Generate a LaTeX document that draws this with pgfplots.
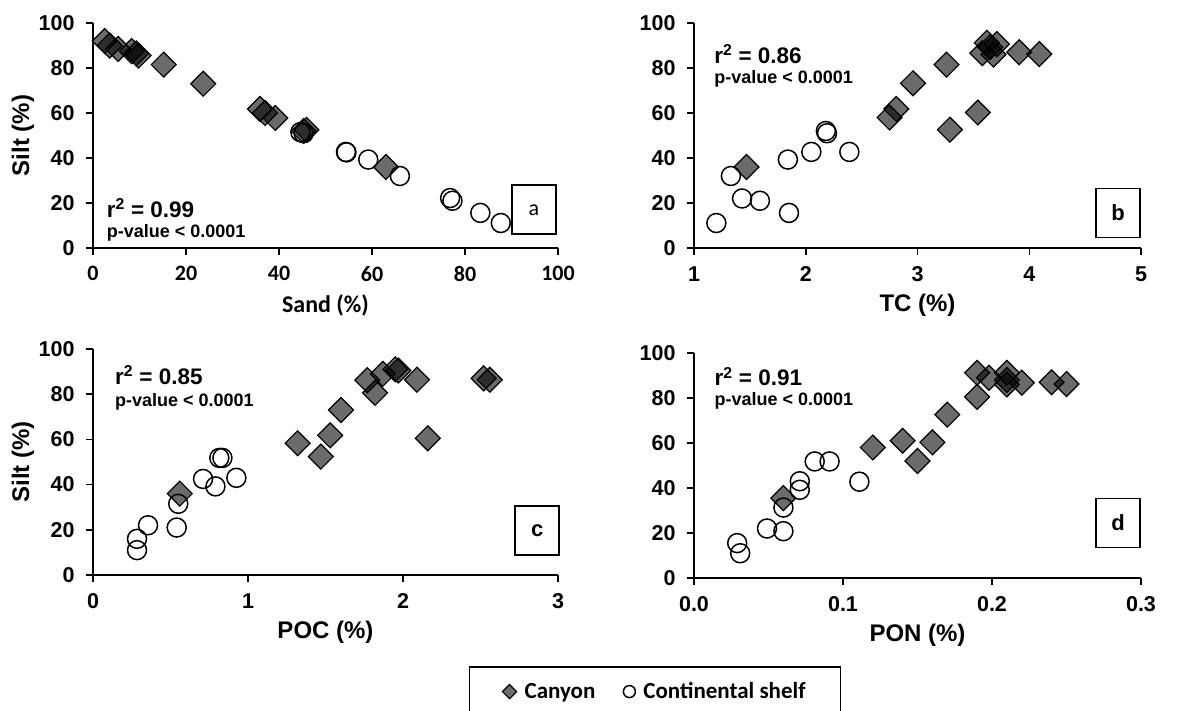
\documentclass[border=0pt]{standalone}
\usepackage{pgfplots}
\pgfplotsset{compat=1.18}
\usepackage{fontspec}
\setmainfont{Liberation Sans}
\newfontfamily\calibri{Carlito}
\newcommand{\tickfont}{\fontsize{21.5}{23}\selectfont\bfseries}
\newcommand{\labfont}{\fontsize{24}{26}\selectfont\bfseries}
\newcommand{\rfont}{\fontsize{22.5}{24}\selectfont\bfseries}
\newcommand{\pfont}{\fontsize{18}{20}\selectfont\bfseries}
\tikzset{letterbox/.style={draw=black, line width=1.5pt, minimum width=44pt, minimum height=49pt, inner sep=0pt}}
\pgfplotsset{
  panel/.style={
    scale only axis, axis x line*=bottom, axis y line*=left,
    axis line style={line width=1.5pt, black},
    tick style={line width=1.5pt, black}, tick align=outside,
    major tick length=7pt,
    ymin=0, ymax=100, ytick={0,20,...,100},
    /pgf/number format/assume math mode=true,
    ticklabel style={font=\tickfont},
    yticklabel style={xshift=-8pt},
    xticklabel style={yshift=-8pt},
    clip=false,
    xlabel style={font=\labfont, at={(axis description cs:0.5,-0.2533)}, anchor=center},
    ylabel style={font=\labfont, at={(axis description cs:-0.1505,0.5)}, anchor=center},
  },
  canyon/.style={only marks, mark=square*, mark size=8.8pt,
    mark options={rotate=45, fill=black, fill opacity=0.58, draw=black, draw opacity=1, line width=1.2pt},
    legend image post style={mark size=5pt}},
  shelf/.style={only marks, mark=o, mark size=9.5pt,
    mark options={draw=black, line width=1.5pt},
    legend image post style={mark size=6pt}},
}
\begin{document}
\begin{tikzpicture}
\useasboundingbox (0,0) rectangle (1203pt,711pt);
% ---------------- panel a
\begin{axis}[panel, at={(93pt,463pt)}, anchor=south west, width=465pt, height=225pt,
  xmin=0, xmax=100, xtick={0,20,...,100},
  xticklabel style={font=\calibri\bfseries\fontsize{22}{24}\selectfont},
  xlabel={\calibri Sand (\%)}, ylabel={Silt (\%)}]
\addplot[canyon] coordinates {(2.5,92) (3.6,90) (5.4,88.5) (8.3,87.5) (9.3,86.5) (9.8,85.5) (15.2,81.5) (23.7,73) (35.9,61.8) (37,60) (39.2,57.8) (45.9,52.5) (45.3,52) (63,36)};
\addplot[shelf] coordinates {(44.6,51.5) (45.3,51) (54.4,42.7) (54.5,42.5) (59.2,39.3) (66,32) (76.8,22.2) (77.3,21) (83.3,15.6) (87.7,11.1)};
\node[anchor=west, font=\rfont] at (axis cs:2.2,17.8) {r\textsuperscript{2} = 0.99};
\node[anchor=west, font=\pfont] at (axis cs:2.2,6.7) {p-value < 0.0001};
\node[letterbox, font=\calibri\fontsize{22}{24}\selectfont] at (axis cs:94.8,17.0) {a};
\end{axis}
% ---------------- panel b
\begin{axis}[panel, at={(694pt,463pt)}, anchor=south west, width=447pt, height=225pt,
  xmin=1, xmax=5, xtick={1,2,3,4,5},
  xlabel={TC (\%)}]
\addplot[canyon] coordinates {(1.47,36) (2.75,58) (2.81,61.8) (2.96,73.2) (3.26,81.5) (3.29,52.6) (3.54,60.2) (3.58,86.6) (3.62,91.2) (3.65,89.2) (3.68,86) (3.71,90.6) (3.91,87) (4.09,86.2)};
\addplot[shelf] coordinates {(1.2,11.1) (1.33,32) (1.43,22) (1.59,21) (1.84,39.3) (1.85,15.6) (2.05,42.7) (2.18,52) (2.19,51) (2.39,42.7)};
\node[anchor=west, font=\rfont] at (axis cs:1.15,86.2) {r\textsuperscript{2} = 0.86};
\node[anchor=west, font=\pfont] at (axis cs:1.15,75.1) {p-value < 0.0001};
\node[letterbox, font=\fontsize{22}{24}\selectfont\bfseries] at (axis cs:4.794,15.6) {b};
\end{axis}
% ---------------- panel c
\begin{axis}[panel, at={(93pt,136pt)}, anchor=south west, width=465pt, height=226pt,
  xmin=0, xmax=3, xtick={0,1,2,3},
  xlabel={POC (\%)}, ylabel={Silt (\%)},
  legend columns=2,
  legend style={at={(axis description cs:1.2086,-0.4027)}, anchor=north, draw=black, line width=1.5pt,
    font=\calibri\bfseries\fontsize{23}{25}\selectfont, inner xsep=33pt, inner ysep=14pt,
    /tikz/every odd column/.append style={column sep=6pt},
    /tikz/every even column/.append style={column sep=26pt}}]
\addplot[canyon] coordinates {(0.56,36) (1.32,58.3) (1.47,52.4) (1.53,61.8) (1.60,73) (1.77,86.2) (1.82,80.6) (1.87,89) (1.95,91) (1.97,90.5) (2.09,86.4) (2.16,60.5) (2.52,87) (2.56,86.4)};
\addlegendentry{Canyon}
\addplot[shelf] coordinates {(0.284,11) (0.284,16) (0.355,22) (0.54,21) (0.55,31.5) (0.71,42.5) (0.79,39.2) (0.815,51.8) (0.835,51.8) (0.925,43)};
\addlegendentry{Continental shelf}
\node[anchor=west, font=\rfont] at (axis cs:0.12,88.5) {r\textsuperscript{2} = 0.85};
\node[anchor=west, font=\pfont] at (axis cs:0.12,76.7) {p-value < 0.0001};
\node[letterbox, font=\fontsize{22}{24}\selectfont\bfseries] at (axis cs:2.866,19.6) {c};
\end{axis}
% ---------------- panel d
\begin{axis}[panel, at={(694pt,133pt)}, anchor=south west, width=447pt, height=225pt,
  xmin=0, xmax=0.3, xtick={0,0.1,0.2,0.3},
  xticklabel style={/pgf/number format/.cd, fixed, fixed zerofill, precision=1},
  xlabel={PON (\%)}]
\addplot[canyon] coordinates {(0.06,35.5) (0.12,58) (0.14,61) (0.15,52) (0.16,60.3) (0.17,72.6) (0.19,91.2) (0.19,80.5) (0.198,89) (0.21,91.2) (0.21,88) (0.21,86) (0.22,86.8) (0.24,87) (0.25,86.2)};
\addplot[shelf] coordinates {(0.029,15.5) (0.031,11) (0.049,22) (0.06,20.8) (0.06,31.3) (0.071,43) (0.071,39.2) (0.081,51.8) (0.091,51.8) (0.111,42.8)};
\node[anchor=west, font=\rfont] at (axis cs:0.0115,89.4) {r\textsuperscript{2} = 0.91};
\node[anchor=west, font=\pfont] at (axis cs:0.0115,78.6) {p-value < 0.0001};
\node[letterbox, font=\fontsize{22}{24}\selectfont\bfseries] at (axis cs:0.2846,24.5) {d};
\end{axis}
\end{tikzpicture}
\end{document}
